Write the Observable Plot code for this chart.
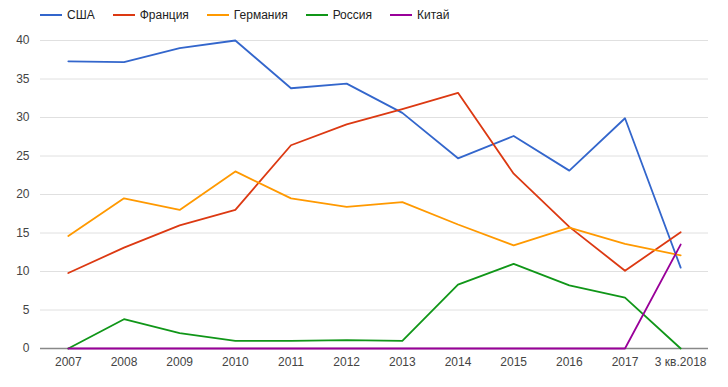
<!DOCTYPE html>
<html>
<head>
<meta charset="utf-8">
<script src="https://cdn.jsdelivr.net/npm/d3@7"></script>
<script src="https://cdn.jsdelivr.net/npm/@observablehq/plot@0.6"></script>
<style>
  body { margin: 0; background: #fff; font-family: Arial, "Liberation Sans", sans-serif; }
  #legend { display: flex; align-items: center; height: 28px; padding-left: 40px; padding-top: 1px; box-sizing: border-box; font-size: 12px; color: #222; }
  #legend .item { display: flex; align-items: center; margin-right: 18px; }
  #legend svg { margin-right: 5px; }
</style>
</head>
<body>
<div id="legend"></div>
<div id="chart"></div>
<script>
const years = ["2007","2008","2009","2010","2011","2012","2013","2014","2015","2016","2017","3 кв.2018"];
const countries = ["США","Франция","Германия","Россия","Китай"];
const colors = ["#3366cc","#dc3912","#ff9900","#109618","#990099"];
const usa     = [37.3, 37.2, 39.0, 40.0, 33.8, 34.4, 30.6, 24.7, 27.6, 23.1, 29.9, 10.5];
const france  = [9.8, 13.1, 16.0, 18.0, 26.4, 29.1, 31.1, 33.2, 22.7, 15.8, 10.1, 15.1];
const germany = [14.6, 19.5, 18.0, 23.0, 19.5, 18.4, 19.0, 16.1, 13.4, 15.7, 13.6, 12.1];
const russia  = [0, 3.8, 2.0, 1.0, 1.0, 1.1, 1.0, 8.3, 11.0, 8.2, 6.6, 0];
const china   = [0, 0, 0, 0, 0, 0, 0, 0, 0, 0, 0, 13.5];
const yTicks = [0, 5, 10, 15, 20, 25, 30, 35, 40];

const series = [usa, france, germany, russia, china];
const data = series.flatMap((vals, i) => vals.map((v, j) => ({country: countries[i], year: years[j], value: v})));

const legend = document.getElementById("legend");
countries.forEach((c, i) => {
  const item = document.createElement("div");
  item.className = "item";
  item.innerHTML = `<svg width="22" height="4"><line x1="0" x2="22" y1="2" y2="2" stroke="${colors[i]}" stroke-width="2"/></svg><span>${c}</span>`;
  legend.appendChild(item);
});

const chart = Plot.plot({
  width: 728,
  height: 359,
  marginTop: 12,
  marginBottom: 39,
  marginLeft: 40,
  marginRight: 20,
  style: {fontFamily: "Arial, 'Liberation Sans', sans-serif", fontSize: "12px", color: "#444", background: "#fff"},
  x: {type: "point", domain: years, padding: 0.5, round: false, label: null},
  y: {domain: [0, 40], label: null},
  color: {domain: countries, range: colors},
  marks: [
    Plot.gridY(yTicks, {stroke: "#e0e0e0", strokeOpacity: 1}),
    Plot.axisY(yTicks, {tickSize: 0, tickPadding: 11, label: null, fill: "#444"}),
    Plot.axisX(years, {tickSize: 0, tickPadding: 9, label: null, fill: "#444"}),
    Plot.ruleY([0], {stroke: "#888", strokeWidth: 1.5}),
    Plot.line(data, {x: "year", y: "value", z: "country", stroke: "country", strokeWidth: 1.8})
  ]
});
document.getElementById("chart").appendChild(chart);
</script>
</body>
</html>
